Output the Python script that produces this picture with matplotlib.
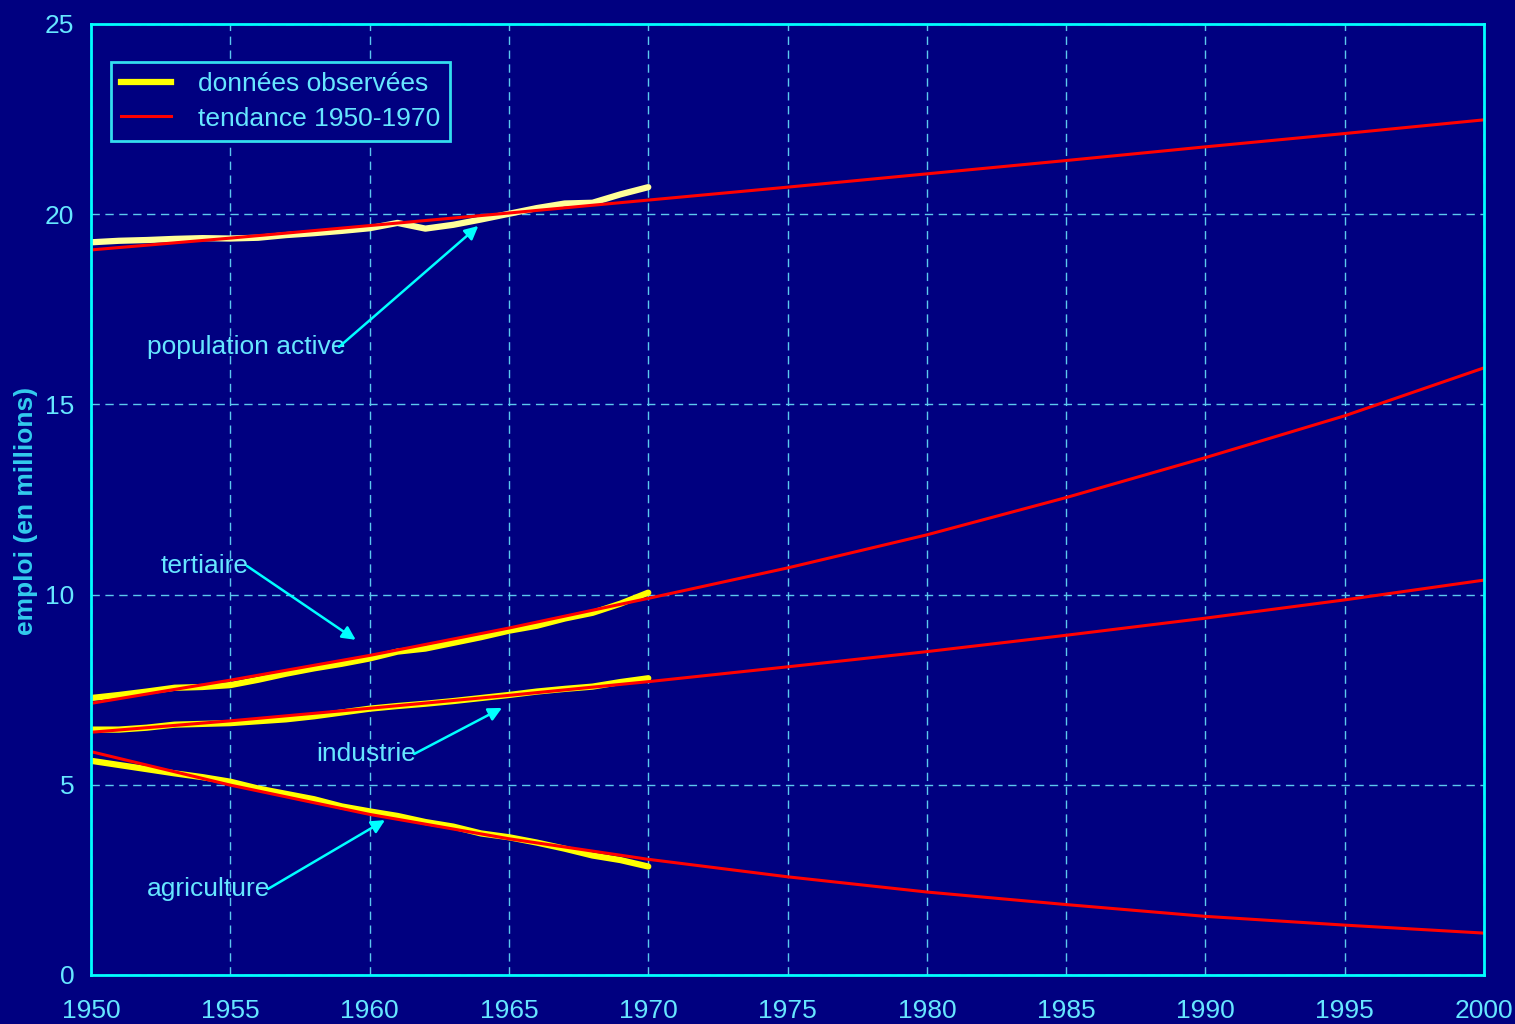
import numpy as np
import matplotlib
matplotlib.use('Agg')
import matplotlib.pyplot as plt

plt.rcParams['font.family'] = ['Liberation Sans', 'DejaVu Sans']

# Données observées (annuelles, 1950-1970), en millions
annees_obs = list(range(1950, 1971))
pop_active = [19.26, 19.30, 19.32, 19.35, 19.37, 19.36, 19.38, 19.45, 19.50, 19.56, 19.63,
              19.77, 19.62, 19.72, 19.86, 20.01, 20.16, 20.28, 20.30, 20.52, 20.71]
tertiaire = [7.28, 7.36, 7.45, 7.55, 7.57, 7.62, 7.76, 7.92, 8.06, 8.18, 8.32,
             8.50, 8.58, 8.73, 8.88, 9.05, 9.18, 9.37, 9.52, 9.76, 10.05]
industrie = [6.45, 6.45, 6.50, 6.58, 6.60, 6.62, 6.67, 6.72, 6.80, 6.90, 7.00,
             7.07, 7.13, 7.20, 7.28, 7.36, 7.45, 7.52, 7.58, 7.70, 7.80]
agriculture = [5.63, 5.52, 5.41, 5.30, 5.20, 5.08, 4.90, 4.76, 4.62, 4.43, 4.30,
               4.18, 4.02, 3.90, 3.72, 3.62, 3.48, 3.32, 3.14, 3.02, 2.85]

# Tendance 1950-1970 prolongée jusqu'en 2000
annees_tend = list(range(1950, 2001, 5))
tend_pop = [19.06, 19.37, 19.70, 20.03, 20.37, 20.71, 21.06, 21.41, 21.77, 22.12, 22.48]
tend_ter = [7.14, 7.75, 8.40, 9.12, 9.90, 10.70, 11.57, 12.55, 13.60, 14.70, 15.96]
tend_ind = [6.38, 6.68, 7.01, 7.35, 7.71, 8.10, 8.50, 8.93, 9.38, 9.86, 10.38]
tend_agr = [5.87, 4.99, 4.22, 3.58, 3.04, 2.58, 2.18, 1.85, 1.54, 1.31, 1.10]

fond = '#000080'
cyan = '#00FFFF'
texte = '#66E6FF'

fig = plt.figure(figsize=(15.15, 10.24), dpi=100, facecolor=fond)
ax = fig.add_axes([0.0601, 0.0479, 0.9195, 0.9287])
ax.set_facecolor(fond)

for s in ax.spines.values():
    s.set_color(cyan)
    s.set_linewidth(2)

ax.grid(True, color='#5CC8EE', linestyle=(0, (6, 4)), linewidth=1)
ax.set_axisbelow(True)

ax.plot(annees_obs, pop_active, color='#FFFF99', lw=4.5, solid_capstyle='round')
for serie in (tertiaire, industrie, agriculture):
    ax.plot(annees_obs, serie, color='#FFFF00', lw=4.5, solid_capstyle='round')

for serie in (tend_pop, tend_ter, tend_ind, tend_agr):
    ax.plot(annees_tend, serie, color='#FF0000', lw=2.2)

# lignes fantômes pour la légende
ax.plot([], [], color='#FFFF00', lw=4.5, label='données observées')
ax.plot([], [], color='#FF0000', lw=2.2, label='tendance 1950-1970')
leg = ax.legend(loc='upper left', bbox_to_anchor=(0.0144, 0.96), borderaxespad=0,
                fontsize=19, frameon=True, fancybox=False, facecolor=fond,
                edgecolor='#33DDEE', labelcolor=texte, handlelength=1.9,
                handletextpad=1.0, borderpad=0.38, labelspacing=0.4)
leg.get_frame().set_linewidth(2)
leg.get_frame().set_alpha(1)

ax.set_xlim(1950, 2000)
ax.set_ylim(0, 25)
ax.set_xticks(range(1950, 2001, 5))
ax.set_yticks(range(0, 26, 5))
ax.tick_params(colors=texte, labelsize=19, length=0)
ax.tick_params(axis='x', pad=17)
ax.tick_params(axis='y', pad=12)
ax.set_ylabel('emploi (en millions)', color='#33CCEE', fontsize=19, fontweight='bold')
ax.yaxis.set_label_coords(-0.038, 0.488)

fleche = dict(arrowstyle='-|>', color=cyan, lw=1.8, mutation_scale=20, shrinkA=0, shrinkB=0)
notes = [
    ('population active', (1963.9, 19.69), (1952.0, 16.51), (1958.9, 16.51)),
    ('tertiaire', (1959.5, 8.81), (1952.5, 10.75), (1955.6, 10.75)),
    ('industrie', (1964.75, 7.02), (1958.1, 5.81), (1961.6, 5.81)),
    ('agriculture', (1960.55, 4.07), (1952.0, 2.26), (1956.35, 2.26)),
]
for nom, tete, pos_txt, queue in notes:
    ax.text(pos_txt[0], pos_txt[1], nom, color=texte, fontsize=19, va='center', ha='left')
    ax.annotate('', xy=tete, xytext=queue, arrowprops=fleche)

fig.savefig('out.png', dpi=100, facecolor=fond)
